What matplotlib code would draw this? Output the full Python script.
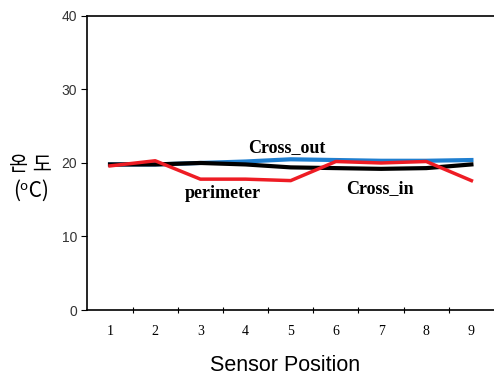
import numpy as np
import matplotlib.pyplot as plt

positions = [1, 2, 3, 4, 5, 6, 7, 8, 9]
cross_out = [19.8, 19.8, 20.0, 20.2, 20.5, 20.4, 20.3, 20.3, 20.4]
cross_in = [19.8, 19.8, 20.0, 19.8, 19.4, 19.3, 19.2, 19.3, 19.8]
perimeter = [19.6, 20.3, 17.8, 17.8, 17.6, 20.2, 20.0, 20.2, 17.6]

fig = plt.figure(figsize=(4.94, 3.79), dpi=100)
ax = fig.add_axes([0.177, 0.182, 0.823, 0.776])

ax.plot(positions, cross_in, color='black', lw=3, zorder=3)
ax.plot(positions, cross_out, color='#1f7fd0', lw=3, zorder=2)
ax.plot(positions, perimeter, color='#ee1c24', lw=2.5, zorder=4)

ax.set_xlim(0.5, 9.5)
ax.set_ylim(0, 40)
ax.set_yticks([0, 10, 20, 30, 40])
ax.set_yticklabels(['0', '10', '20', '30', '40'], fontsize=10, family='Liberation Sans', color='#333333')

# category axis: ticks on boundaries, labels centred
ax.set_xticks(np.arange(1.5, 9.5, 1))
ax.set_xticklabels([])
ax.set_xticks(positions, minor=True)
ax.set_xticklabels([str(p) for p in positions], minor=True, fontsize=10, family='Liberation Serif')
ax.tick_params(axis='x', which='minor', length=0, pad=11)
ax.tick_params(axis='x', which='major', length=4, direction='inout')
ax.tick_params(axis='y', length=4, direction='out')

ax.spines['right'].set_visible(False)
for s in ['left', 'top', 'bottom']:
    ax.spines[s].set_linewidth(1.2)

ax.text(4.92, 21.0, 'Cross_out', family='Liberation Serif', weight='bold', fontsize=13, ha='center', va='bottom')
ax.text(3.5, 17.0, 'perimeter', family='Liberation Serif', weight='bold', fontsize=13, ha='center', va='top')
ax.text(6.98, 17.7, 'Cross_in', family='Liberation Serif', weight='bold', fontsize=13, ha='center', va='top')

fig.text(0.577, 0.035, 'Sensor Position', fontsize=15.5, family='Liberation Sans', ha='center', va='center')
fig.text(0.062, 0.53, '온 도\n(ᵒC)', family=['Noto Sans CJK KR', 'DejaVu Sans'], fontsize=15,
         ha='center', va='center', linespacing=1.25)

fig.savefig('out.png', dpi=100)
